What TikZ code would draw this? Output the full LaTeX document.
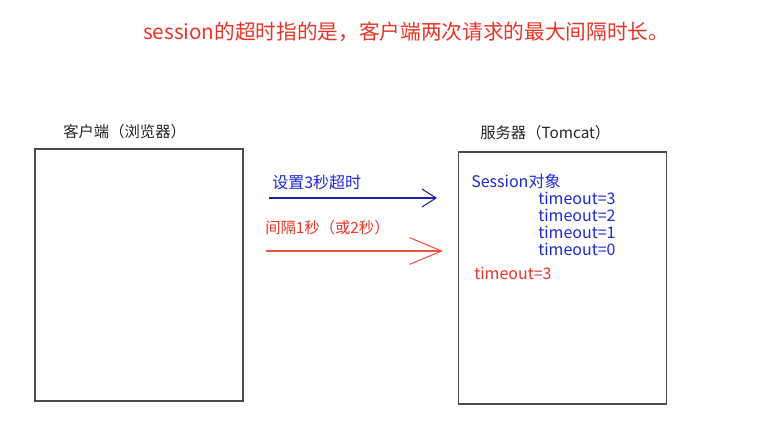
\documentclass[tikz,border=0pt]{standalone}
\usepackage{fontspec}
\setmainfont{Noto Sans CJK SC}
\usetikzlibrary{arrows.meta, positioning}
\definecolor{notered}{RGB}{236,52,38}
\definecolor{noteblue}{RGB}{30,40,215}
\definecolor{arrblue}{RGB}{25,35,170}
\definecolor{arrred}{RGB}{240,85,65}

\begin{document}
\begin{tikzpicture}[x=0.75pt,y=-0.75pt,
  box/.style={rectangle,draw=black!70,line width=0.9pt,minimum width=156pt,minimum height=189pt,inner sep=0pt},
  head/.style={anchor=west,inner sep=0pt,text=black!85,font=\fontsize{11.5}{14}\selectfont},
  txt/.style={anchor=west,inner sep=0pt,font=\fontsize{12}{14}\selectfont},
  arr/.style={-{Straight Barb[length=10.5pt,width=13.5pt]},line width=0.8pt}
]
  \useasboundingbox (0,0) rectangle (764,430);
  \node[anchor=west,inner sep=0pt,text=notered,font=\fontsize{15.5}{18}\selectfont](t0) at (143,32){session的超时指的是，客户端两次请求的最大间隔时长。};
  \node[box](client) at (139,275){};
  \node[box](server) at (562.5,278){};
  \node[head](h0) at (63,132){客户端（浏览器）};
  \node[head](h1) at (480,133){服务器（Tomcat）};
  \node[txt,text=noteblue](a0) at (272,182){设置3秒超时};
  \node[txt,text=notered,font=\fontsize{11.5}{14}\selectfont](a1) at (265,228){间隔1秒（或2秒）};
  \node[txt,text=noteblue](s0) at (471,181){Session对象};
  \node[txt,text=noteblue](s1) at (538,198){timeout=3};
  \node[txt,text=noteblue](s2) at (538,215){timeout=2};
  \node[txt,text=noteblue](s3) at (538,232){timeout=1};
  \node[txt,text=noteblue](s4) at (538,249){timeout=0};
  \node[txt,text=notered](s5) at (474,273){timeout=3};
  \coordinate (b0) at (269,198); \coordinate (b1) at (437,198);
  \coordinate (r0) at (266,251); \coordinate (r1) at (443,251);
  \draw[arr,arrblue](b0)--(b1);
  \draw[arr,arrred,-{Straight Barb[length=24pt,width=20pt]}](r0)--(r1);
\end{tikzpicture}
\end{document}
